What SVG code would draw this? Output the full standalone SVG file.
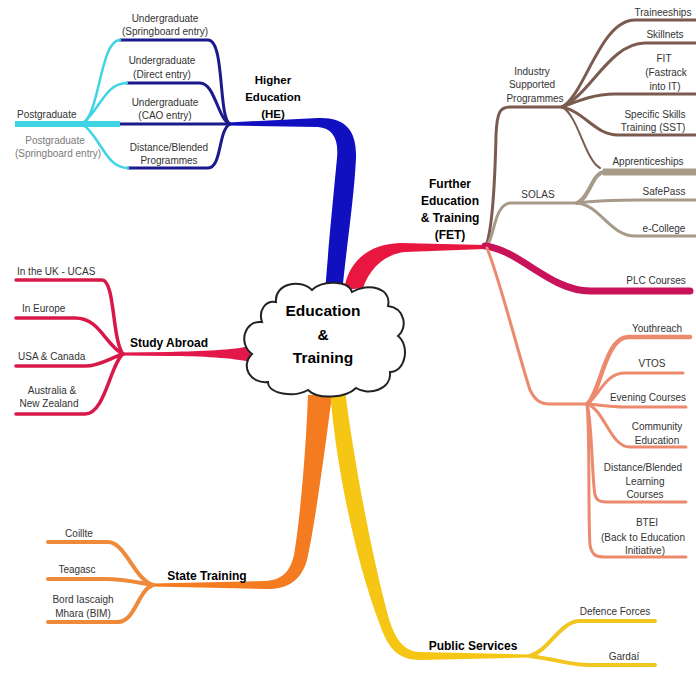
<svg xmlns="http://www.w3.org/2000/svg" width="696" height="684" viewBox="0 0 696 684">
<style>
text{font-family:"Liberation Sans",Arial,sans-serif;fill:#333;font-size:10px;text-anchor:middle}
.b{font-weight:bold;fill:#000;font-size:12px}
.c{font-weight:bold;fill:#000;font-size:15.5px}
.l{text-anchor:start}
.g{fill:#7a7a7a}
.s{fill:none;stroke-linecap:round;stroke-linejoin:round}
.navy{stroke:#1a1a8c;stroke-width:3}
.cyan{stroke:#3fd4e4;stroke-width:2.5}
.brown{stroke:#7b5b50;stroke-width:3}
.tan{stroke:#a89a88;stroke-width:3}
.salm{stroke:#ec8a6e;stroke-width:3}
.crim{stroke:#d9184a;stroke-width:3.5}
.org{stroke:#ee8a3a;stroke-width:4}
.yel{stroke:#f1c61f;stroke-width:4}
</style>
<rect width="696" height="684" fill="#fff"/>
<g id="connectors">
  <!-- main tapered branches -->
  <path d="M325,294 C328,250 334,190 337,158 C339,138 332,128 318,127 L228,125.5 L228,122.5 L318,118 C345,117 357,130 356,158 C354,200 346,250 342,294 Z" fill="#1010c0"/>
  <path d="M344,290 C348,262 368,244 400,243 L485,245 L485,249 L405,252 C385,254 370,268 363,288 Z" fill="#e8173f"/>
  <path d="M250,346 C235,350 200,351 170,352 L122,352.5 L122,355.5 L170,356 C200,356 235,358 250,362 Z" fill="#e3174a"/>
  <path d="M308,395 C306,450 300,520 294,555 C290,572 282,580 265,581 L153,583.5 L153,586.5 L265,589 C290,590 302,578 307,560 C314,530 325,450 332,395 Z" fill="#f47b20"/>
  <path d="M330,390 C335,460 355,560 380,625 C388,648 398,660 420,660 L530,657.5 L530,654.5 L420,652 C405,652 396,640 390,622 C375,570 355,470 345,390 Z" fill="#f6c615"/>
  <!-- HE children -->
  <path class="s navy" d="M120,40 L208,40 C225,40 218,118 230,124"/>
  <path class="s navy" d="M127,83 L200,83 C215,83 218,120 230,124"/>
  <path class="s navy" d="M120,124 L230,124"/>
  <path class="s navy" d="M128,168 L208,168 C222,168 218,130 230,124"/>
  <path class="s cyan" d="M15,124 L120,124" style="stroke-width:6;stroke-linecap:butt"/>
  <path class="s cyan" d="M82,124 C100,115 100,40 120,40"/>
  <path class="s cyan" d="M82,124 C100,110 105,83 127,83"/>
  <path class="s cyan" d="M82,124 C100,135 105,168 128,168"/>
  <!-- Industry Supported Programmes -->
  <path class="s brown" d="M486,246 C492,230 495,180 496,135 C497,112 500,107 510,107 L563,107"/>
  <path class="s brown" d="M562,107 C585,95 600,20 635,20 L696,20"/>
  <path class="s brown" d="M562,107 C590,95 610,43 645,43 L696,43"/>
  <path class="s brown" d="M562,107 C580,100 595,94 615,94 L696,94"/>
  <path class="s brown" d="M562,107 C585,112 595,135 618,135 L696,135"/>
  <path class="s brown" d="M562,107 C578,115 585,160 600,168" style="stroke-width:2"/>
  <!-- SOLAS -->
  <path class="s tan" d="M487,246 C495,235 494,205 510,203 L577,203"/>
  <path class="s tan" d="M577,203 C590,198 592,172 605,172" style="stroke-width:4"/>
  <path class="s tan" d="M603,172 L696,172" style="stroke-width:7;stroke-linecap:butt"/>
  <path class="s tan" d="M577,203 C600,200 620,200 640,200 L696,200"/>
  <path class="s tan" d="M577,203 C600,205 610,236 635,236 L696,236"/>
  <!-- PLC -->
  <path class="s" d="M485,246 C520,250 550,291 590,291 L690,291" stroke="#c8125a" stroke-width="7"/>
  <!-- Salmon group -->
  <path class="s salm" d="M487,248 C500,280 520,360 530,390 C535,400 540,404 550,404 L587,404"/>
  <path class="s salm" d="M587,404 C600,395 605,337 628,337 L690,337" style="stroke-width:4.5"/>
  <path class="s salm" d="M587,404 C600,395 605,373 625,373 L683,373"/>
  <path class="s salm" d="M587,404 C600,405 610,407 625,407 L686,407"/>
  <path class="s salm" d="M587,404 C605,410 610,447 630,447 L686,447"/>
  <path class="s salm" d="M587,404 C592,420 592,480 595,495 C597,502 602,502 610,502 L686,502"/>
  <path class="s salm" d="M587,404 C590,430 588,520 590,545 C592,556 597,557 605,557 L686,557"/>
  <!-- Study Abroad children -->
  <path class="s crim" d="M16,280 L102,280 C115,280 112,340 123,354"/>
  <path class="s crim" d="M16,318 L75,318 C100,318 105,345 123,354"/>
  <path class="s crim" d="M16,366 L85,366 C100,366 110,358 123,354"/>
  <path class="s crim" d="M16,414 L85,414 C105,414 110,365 123,354"/>
  <!-- State Training children -->
  <path class="s org" d="M48,542 L108,542 C125,542 135,580 153,585"/>
  <path class="s org" d="M48,579 L105,579 C125,579 140,583 153,585"/>
  <path class="s org" d="M48,622 L118,622 C135,622 138,590 153,585"/>
  <!-- Public Services children -->
  <path class="s yel" d="M530,656 C550,650 560,621 580,621 L655,621"/>
  <path class="s yel" d="M530,656 C560,660 570,665 590,665 L655,665"/>
</g>
<g id="center">
  <path d="M276,302 C274,284 300,278 312,290 C322,280 348,280 352,292 C368,282 392,288 388,306 C405,308 408,328 398,336 C410,345 406,372 390,372 C392,390 368,396 356,388 C346,398 318,400 308,390 C294,398 268,394 268,382 C250,384 240,366 252,354 C238,344 244,320 262,322 C258,310 266,300 276,302 Z" fill="#fff" stroke="#222" stroke-width="2"/>
  <text class="c" x="323" y="316">Education</text>
  <text class="c" x="323" y="340">&amp;</text>
  <text class="c" x="323" y="363">Training</text>
</g>
<g id="he">
  <text class="b" x="273" y="84" style="font-size:11.5px">Higher</text>
  <text class="b" x="273" y="101" style="font-size:11.5px">Education</text>
  <text class="b" x="273" y="118" style="font-size:11.5px">(HE)</text>
</g>
<g id="he-springboard"><text x="165" y="22">Undergraduate</text><text x="165" y="35">(Springboard entry)</text></g>
<g id="he-direct"><text x="162" y="64">Undergraduate</text><text x="162" y="78">(Direct entry)</text></g>
<g id="he-cao"><text x="165" y="106">Undergraduate</text><text x="165" y="119">(CAO entry)</text></g>
<g id="he-distance"><text x="169" y="151">Distance/Blended</text><text x="169" y="164">Programmes</text></g>
<g id="postgrad"><text class="l" x="17" y="118">Postgraduate</text></g>
<g id="postgrad-sb"><text class="g" x="55" y="144">Postgraduate</text><text class="g" x="58" y="157">(Springboard entry)</text></g>
<g id="fet">
  <text class="b" x="450" y="188">Further</text>
  <text class="b" x="450" y="205">Education</text>
  <text class="b" x="450" y="222">&amp; Training</text>
  <text class="b" x="450" y="239">(FET)</text>
</g>
<g id="industry"><text x="532" y="75">Industry</text><text x="532" y="88">Supported</text><text x="535" y="102">Programmes</text></g>
<g id="traineeships"><text x="663" y="16">Traineeships</text></g>
<g id="skillnets"><text x="665" y="38">Skillnets</text></g>
<g id="fit"><text x="664" y="62">FIT</text><text x="666" y="76">(Fastrack</text><text x="665" y="90">into IT)</text></g>
<g id="sst"><text x="655" y="118">Specific Skills</text><text x="653" y="131">Training (SST)</text></g>
<g id="solas"><text x="538" y="198">SOLAS</text></g>
<g id="apprenticeships"><text x="648" y="165">Apprenticeships</text></g>
<g id="safepass"><text x="664" y="195">SafePass</text></g>
<g id="ecollege"><text x="664" y="232">e-College</text></g>
<g id="plc"><text x="656" y="284">PLC Courses</text></g>
<g id="youthreach"><text x="657" y="332">Youthreach</text></g>
<g id="vtos"><text x="652" y="367">VTOS</text></g>
<g id="evening"><text x="648" y="401">Evening Courses</text></g>
<g id="community"><text x="657" y="430">Community</text><text x="657" y="444">Education</text></g>
<g id="distance"><text x="643" y="471">Distance/Blended</text><text x="645" y="485">Learning</text><text x="645" y="498">Courses</text></g>
<g id="btei"><text x="647" y="526">BTEI</text><text x="643" y="541">(Back to Education</text><text x="645" y="554">Initiative)</text></g>
<g id="study-abroad"><text class="b" x="169" y="347">Study Abroad</text></g>
<g id="uk"><text class="l" x="17" y="275">In the UK - UCAS</text></g>
<g id="europe"><text class="l" x="22" y="312">In Europe</text></g>
<g id="usa"><text class="l" x="18" y="360">USA &amp; Canada</text></g>
<g id="australia"><text x="52" y="394">Australia &amp;</text><text x="49" y="407">New Zealand</text></g>
<g id="state-training"><text class="b" x="207" y="580">State Training</text></g>
<g id="coillte"><text x="79" y="537">Coillte</text></g>
<g id="teagasc"><text x="77" y="573">Teagasc</text></g>
<g id="bim"><text x="83" y="603">Bord Iascaigh</text><text x="83" y="617">Mhara (BIM)</text></g>
<g id="public-services"><text class="b" x="473" y="650">Public Services</text></g>
<g id="defence"><text x="615" y="615">Defence Forces</text></g>
<g id="gardai"><text x="624" y="660">Gardaí</text></g>
</svg>
